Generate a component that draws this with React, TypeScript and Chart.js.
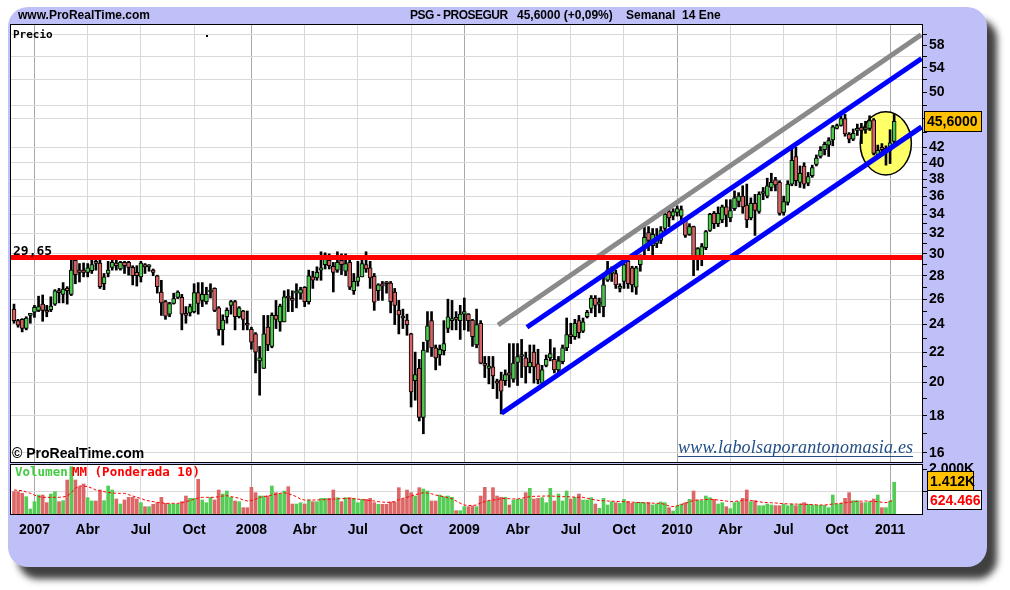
import React, { useEffect, useRef } from 'react';
import { Chart, registerables } from 'chart.js';
Chart.register(...registerables);

// ---------------- DATA (weekly candles, index 0 = last week of Nov 2006) ----------------
const OPEN = [
  25.2, 24.3, 24.4, 23.7, 24.7, 24.95, 25.1, 25.6, 25.0, 25.15,
  25.6, 26.6, 26.4, 26.9, 26.4, 29.4, 28.5, 28.5, 28.3, 28.45,
  29.3, 29.15, 27.3, 28.2, 28.75, 29.15, 28.6, 29.2, 29.2, 28.75,
  28.3, 27.9, 29.0, 28.8, 28.5, 28.0, 26.6, 25.8, 24.8, 25.65,
  26.15, 26.15, 24.8, 24.9, 25.0, 26.55, 25.9, 25.8, 26.6, 26.9,
  25.3, 23.6, 24.6, 25.5, 25.8, 24.6, 25.05, 24.1, 23.65, 23.3,
  21.4, 20.9, 23.8, 22.4, 24.7, 24.2, 24.2, 26.2, 26.0, 26.5,
  26.5, 27.0, 25.8, 27.9, 27.8, 28.5, 29.0, 29.4, 28.85, 28.5,
  29.4, 28.4, 29.2, 26.7, 27.5, 27.9, 29.0, 28.7, 27.95, 26.7,
  27.3, 27.4, 27.35, 26.6, 25.1, 24.6, 24.35, 23.3, 20.1, 20.9,
  17.9, 22.8, 24.3, 22.3, 21.8, 22.1, 23.7, 24.3, 24.5, 24.3,
  24.8, 24.8, 24.35, 22.5, 24.1, 21.2, 20.9, 21.0, 20.0, 20.15,
  20.1, 20.6, 20.2, 21.3, 21.7, 21.6, 21.0, 22.0, 21.2, 19.95,
  21.1, 21.6, 21.5, 20.8, 21.35, 22.3, 23.25, 23.1, 24.3, 23.5,
  24.6, 25.25, 26.1, 25.6, 25.4, 27.6, 28.2, 28.2, 26.9, 27.5,
  29.3, 28.7, 27.0, 29.0, 30.8, 32.1, 30.8, 31.0, 31.3, 32.5,
  34.3, 33.8, 34.2, 33.8, 33.4, 31.9, 32.7, 29.7, 29.7, 30.6,
  32.3, 34.1, 33.0, 33.4, 34.8, 33.6, 34.6, 35.4, 36.0, 35.0,
  33.6, 35.2, 34.3, 36.3, 36.0, 37.0, 37.9, 37.6, 34.2, 35.3,
  37.4, 40.8, 37.6, 39.6, 37.5, 38.4, 39.8, 40.8, 41.7, 42.3,
  43.0, 44.6, 45.0, 46.0, 43.8, 43.1, 44.3, 44.7, 44.4, 44.6,
  45.8, 41.0, 42.0, 41.6, 41.6, 42.8,
];
const HIGH = [
  25.6, 24.4, 24.45, 24.6, 24.85, 25.5, 26.25, 26.35, 25.5, 26.2,
  26.8, 26.9, 27.4, 27.05, 29.4, 29.45, 29.1, 29.15, 29.1, 29.4,
  29.5, 29.4, 28.2, 29.3, 29.4, 29.4, 29.3, 29.3, 29.3, 28.9,
  28.9, 29.3, 29.1, 29.0, 28.6, 28.05, 27.6, 25.9, 25.75, 26.5,
  26.7, 26.4, 25.4, 25.6, 27.3, 27.4, 27.4, 27.0, 27.3, 26.95,
  25.4, 24.75, 25.3, 25.9, 25.9, 25.4, 25.1, 25.05, 23.8, 23.4,
  22.4, 24.7, 24.7, 24.9, 25.9, 25.6, 26.7, 26.8, 26.7, 27.3,
  27.0, 27.05, 28.5, 28.4, 28.8, 30.2, 30.1, 30.0, 29.2, 30.2,
  30.0, 30.0, 29.4, 28.2, 29.3, 29.4, 30.2, 29.3, 28.2, 27.3,
  27.5, 27.5, 27.5, 26.9, 25.9, 25.2, 24.8, 23.35, 22.0, 21.5,
  22.7, 25.0, 25.0, 22.5, 22.5, 24.3, 26.0, 25.9, 25.0, 25.5,
  26.1, 24.85, 24.4, 25.2, 24.3, 21.7, 21.7, 21.7, 20.2, 20.65,
  20.8, 22.6, 22.6, 22.6, 22.9, 22.0, 22.5, 22.5, 22.2, 21.1,
  21.8, 22.9, 22.3, 21.7, 22.5, 24.5, 24.1, 24.4, 24.7, 24.5,
  25.1, 26.3, 26.3, 26.1, 28.0, 29.3, 28.8, 28.5, 27.3, 29.3,
  29.8, 28.85, 28.85, 29.9, 32.7, 32.7, 32.5, 32.5, 32.7, 34.2,
  34.6, 34.6, 34.9, 34.9, 33.6, 33.0, 32.75, 30.6, 31.0, 32.3,
  34.1, 34.3, 34.8, 35.0, 35.6, 35.6, 36.6, 36.4, 37.2, 37.4,
  35.8, 36.2, 36.5, 37.0, 38.1, 38.7, 38.2, 37.8, 36.0, 37.8,
  42.0, 42.0, 39.6, 40.0, 38.8, 39.7, 41.0, 42.1, 42.7, 43.3,
  45.0, 45.2, 46.8, 46.6, 44.0, 44.5, 45.2, 45.3, 45.6, 46.4,
  46.0, 42.3, 42.5, 42.2, 44.4, 46.6,
];
const LOW = [
  24.1, 23.8, 23.45, 23.6, 24.1, 24.55, 25.0, 24.25, 24.6, 25.0,
  25.5, 25.7, 25.7, 25.6, 26.3, 27.3, 27.45, 27.9, 27.9, 28.2,
  28.5, 26.9, 26.8, 27.9, 28.5, 28.5, 28.5, 28.2, 28.05, 27.2,
  27.1, 27.45, 28.2, 28.4, 28.0, 26.5, 24.7, 24.4, 24.6, 25.6,
  26.05, 23.6, 24.1, 24.65, 24.9, 24.8, 25.4, 25.6, 26.1, 25.0,
  23.2, 22.5, 24.1, 24.8, 23.6, 24.5, 23.6, 23.6, 22.2, 20.6,
  19.2, 20.9, 22.1, 22.3, 23.7, 23.5, 24.2, 25.0, 25.0, 25.3,
  26.0, 25.4, 25.6, 26.9, 27.6, 27.6, 28.6, 28.6, 26.6, 28.3,
  28.1, 28.0, 26.8, 26.4, 27.1, 27.9, 28.3, 26.9, 25.1, 25.9,
  25.9, 26.5, 24.9, 24.0, 23.3, 23.7, 23.2, 18.5, 18.9, 17.7,
  17.0, 22.0, 21.7, 20.8, 21.1, 21.8, 23.4, 23.6, 23.6, 22.9,
  23.6, 23.5, 22.4, 22.3, 21.2, 20.3, 19.9, 19.6, 19.0, 18.1,
  19.8, 19.7, 20.0, 19.8, 20.3, 19.95, 20.6, 19.95, 19.9, 19.8,
  21.0, 21.4, 20.6, 20.6, 21.2, 22.1, 22.6, 22.9, 23.0, 23.4,
  24.5, 24.9, 24.6, 24.9, 24.6, 27.5, 27.5, 26.9, 26.6, 26.9,
  26.9, 26.6, 26.4, 28.4, 29.7, 30.3, 29.8, 30.6, 31.0, 32.0,
  32.7, 33.4, 33.8, 33.4, 31.6, 31.8, 28.0, 28.5, 28.9, 30.4,
  32.2, 32.5, 32.7, 33.1, 32.7, 33.2, 34.4, 34.8, 34.1, 32.6,
  33.4, 31.8, 34.1, 35.6, 35.8, 36.6, 36.6, 33.9, 33.9, 35.0,
  37.2, 37.2, 37.0, 36.9, 37.2, 38.2, 39.6, 40.6, 41.0, 40.8,
  42.2, 44.5, 44.9, 43.5, 42.6, 42.9, 43.6, 42.5, 43.9, 44.3,
  41.0, 40.6, 41.0, 39.7, 39.9, 42.6,
];
const CLOSE = [
  24.3, 23.96, 23.7, 24.5, 24.7, 25.35, 25.4, 25.1, 24.95, 25.45,
  26.7, 26.55, 26.85, 26.7, 28.5, 28.1, 28.3, 28.3, 28.7, 29.0,
  29.1, 27.05, 27.9, 28.5, 29.2, 28.9, 29.2, 28.9, 28.75, 28.0,
  28.0, 29.15, 28.8, 28.9, 28.3, 27.05, 25.7, 24.65, 25.65, 26.05,
  26.6, 24.8, 24.7, 25.4, 26.55, 25.65, 26.4, 26.4, 26.65, 25.1,
  23.6, 24.35, 25.1, 25.8, 24.6, 25.3, 24.4, 23.95, 22.7, 22.0,
  21.6, 23.3, 22.5, 24.7, 24.4, 25.45, 26.2, 26.1, 25.9, 26.6,
  26.8, 25.8, 28.0, 27.6, 28.3, 28.7, 29.9, 28.9, 28.3, 29.2,
  29.0, 29.1, 27.0, 27.5, 27.9, 29.1, 28.6, 27.8, 25.75, 27.2,
  27.1, 27.3, 25.8, 25.5, 24.75, 24.5, 24.0, 19.4, 20.5, 17.9,
  22.15, 23.9, 22.3, 21.6, 22.2, 22.6, 24.6, 24.4, 24.4, 24.8,
  25.0, 24.3, 23.1, 24.0, 21.25, 21.1, 21.05, 20.4, 19.95, 19.45,
  20.5, 20.45, 21.25, 21.7, 21.75, 21.0, 21.3, 21.0, 20.15, 20.8,
  21.5, 21.9, 20.8, 21.4, 22.3, 23.25, 23.1, 24.1, 23.4, 24.2,
  24.95, 26.1, 25.5, 25.7, 27.2, 28.5, 28.3, 27.2, 27.0, 29.0,
  27.3, 27.2, 28.7, 29.9, 31.6, 31.3, 31.9, 31.6, 32.3, 34.0,
  33.6, 34.3, 34.6, 34.5, 31.8, 32.7, 29.7, 30.5, 30.7, 32.2,
  34.0, 33.0, 34.1, 34.8, 33.9, 34.4, 35.8, 36.0, 34.8, 33.4,
  35.2, 34.4, 36.2, 36.4, 37.2, 37.6, 37.3, 34.1, 35.4, 37.4,
  40.3, 37.8, 38.7, 37.4, 38.3, 39.4, 40.6, 41.6, 42.4, 42.9,
  44.8, 45.0, 46.0, 43.8, 43.1, 43.9, 44.4, 44.3, 44.6, 45.7,
  41.2, 41.6, 41.7, 41.7, 42.6, 45.6,
];
// weekly volume (thousands)
const VOLUME = [
  993, 993, 919, 770, 222, 548, 844, 844, 504, 889,
  993, 548, 593, 1511, 2104, 1511, 1215, 1333, 726, 578,
  578, 1067, 593, 1244, 1067, 667, 444, 622, 741, 741,
  667, 504, 326, 326, 430, 504, 741, 474, 444, 444,
  444, 548, 800, 696, 696, 1541, 622, 504, 741, 622,
  1067, 889, 1022, 741, 578, 548, 281, 281, 1185, 948,
  800, 800, 800, 1244, 948, 889, 1022, 1215, 444, 444,
  504, 444, 622, 548, 548, 696, 696, 696, 1067, 726,
  548, 726, 726, 696, 504, 652, 652, 696, 504, 430,
  430, 430, 533, 533, 1170, 667, 1067, 948, 800, 1170,
  1111, 1022, 578, 578, 844, 770, 800, 741, 148, 148,
  326, 326, 356, 326, 800, 1185, 578, 1170, 800, 741,
  741, 400, 622, 652, 652, 948, 1141, 667, 696, 726,
  504, 1141, 578, 889, 578, 1022, 667, 741, 889, 622,
  622, 726, 444, 252, 696, 400, 548, 504, 474, 652,
  548, 474, 519, 519, 504, 504, 400, 444, 533, 504,
  281, 133, 356, 444, 504, 652, 1022, 622, 593, 800,
  726, 652, 444, 504, 326, 237, 504, 548, 696, 1067,
  548, 593, 370, 370, 444, 400, 370, 370, 444, 370,
  444, 370, 444, 504, 430, 400, 385, 385, 385, 281,
  844, 430, 474, 696, 948, 593, 593, 504, 504, 548,
  667, 844, 281, 281, 578, 1412,
];
// "MM (Ponderada 10)" line (thousands)
const VOLUME_MM = [
  1066, 1050, 1037, 980, 918, 844, 770, 741, 741, 741,
  741, 741, 760, 800, 950, 1150, 1244, 1244, 1215, 1150,
  1066, 1030, 992, 960, 940, 918, 918, 918, 860, 800,
  740, 690, 622, 580, 548, 518, 500, 474, 474, 474,
  474, 500, 548, 600, 652, 720, 741, 741, 741, 741,
  770, 800, 815, 770, 741, 700, 620, 578, 600, 650,
  741, 770, 800, 844, 880, 918, 948, 900, 844, 770,
  660, 622, 622, 622, 622, 630, 640, 652, 660, 670,
  680, 690, 696, 680, 660, 640, 622, 600, 578, 548,
  530, 520, 520, 560, 640, 696, 740, 800, 860, 900,
  948, 930, 900, 844, 800, 770, 720, 680, 580, 480,
  400, 380, 380, 400, 500, 548, 600, 622, 640, 690,
  685, 680, 672, 667, 700, 740, 770, 785, 790, 795,
  800, 800, 790, 780, 770, 770, 760, 750, 745, 741,
  700, 660, 622, 600, 590, 578, 570, 560, 555, 548,
  535, 525, 515, 504, 500, 490, 480, 476, 474, 420,
  360, 326, 360, 420, 474, 540, 600, 622, 630, 640,
  652, 640, 620, 600, 575, 548, 560, 580, 600, 622,
  600, 570, 540, 518, 510, 500, 490, 474, 460, 450,
  444, 440, 437, 434, 430, 420, 410, 400, 400, 420,
  444, 460, 480, 500, 518, 540, 560, 570, 578, 570,
  560, 548, 520, 504, 560, 624.466,
];

// x-axis (quarter starts, week index) and labels
const MONTH_IDX = [5, 18, 31, 44, 58, 71, 84, 97, 110, 123, 136, 149, 162, 175, 188, 201, 214];
const MONTH_LABELS = ['2007', 'Abr', 'Jul', 'Oct', '2008', 'Abr', 'Jul', 'Oct', '2009', 'Abr', 'Jul', 'Oct', '2010', 'Abr', 'Jul', 'Oct', '2011'];
const YEAR_IDX = [5, 58, 110, 162, 214];

// price axis
const PRICE_TICKS = [16, 17, 18, 19, 20, 21, 22, 23, 24, 25, 26, 27, 28, 29, 30, 31, 32, 33, 34, 35, 36, 37, 38, 39, 40, 41, 42, 44, 46, 48, 50, 52, 54, 56, 58, 60];
const PRICE_LABELS = [16, 18, 20, 22, 24, 26, 28, 30, 32, 34, 36, 38, 40, 42, 50, 54, 58];
const PRICE_GRID = [16, 18, 20, 22, 24, 26, 28, 30, 32, 34, 36, 38, 40, 42, 46, 48, 52, 56, 60];
const VOL_TICKS = [1000, 2000];

// drawings (week index, price)
const RESISTANCE = 29.65;
const GRAY_LINE = [{ x: 118.25, y: 23.97 }, { x: 221.6, y: 59.9 }];
const BLUE_UPPER = [{ x: 125.3, y: 23.8 }, { x: 221.7, y: 55.6 }];
const BLUE_LOWER = [{ x: 119.1, y: 18.14 }, { x: 221.7, y: 44.8 }];
const CIRCLE_X = [206.7, 219.2];
const CIRCLE_Y = [38.5, 47.0];

const TITLE_LEFT = 'www.ProRealTime.com';
const TITLE_NAME = 'PSG - PROSEGUR';
const TITLE_CHANGE = '(+0,09%)';
const TITLE_PERIOD = 'Semanal  14 Ene';

// ---------------- LAYOUT / STYLE ----------------
const W = 1010, H = 590;
const X_MIN = -0.73, X_MAX = 221.8;
const P_MIN = 15.55, P_MAX = 61.8;
const V_MAX = 2178;
const GREEN = '#4CC84C', RED = '#D96262';
const VGREEN = '#55CC55', VRED = '#DD6666';
const FONT = '"Liberation Sans", Arial, sans-serif';
const MONO = '"DejaVu Sans Mono", monospace';

const isUp = CLOSE.map((c, i) => c >= OPEN[i]);
const fmtComma = (v: number, d: number) => v.toFixed(d).replace('.', ',');

function box(ctx: CanvasRenderingContext2D, x: number, top: number, w: number, h: number, fill: string, text: string, color: string) {
  ctx.fillStyle = fill;
  ctx.fillRect(x, top, w, h);
  ctx.strokeStyle = '#000';
  ctx.lineWidth = 1;
  ctx.strokeRect(x + 0.5, top + 0.5, w - 1, h - 1);
  ctx.fillStyle = color;
  ctx.font = `bold 14px ${FONT}`;
  ctx.textAlign = 'left';
  ctx.textBaseline = 'middle';
  ctx.fillText(text, x + 3, top + h / 2 + 1);
}

const pricePlugin = {
  id: 'priceDeco',
  beforeDraw(chart: any) {
    const { ctx, chartArea: a } = chart;
    ctx.save();
    ctx.fillStyle = '#fff';
    ctx.fillRect(a.left, a.top, a.right - a.left, a.bottom - a.top);
    ctx.restore();
  },
  beforeDatasetsDraw(chart: any) {
    const { ctx, scales } = chart;
    const x1 = scales.x.getPixelForValue(CIRCLE_X[0]);
    const x2 = scales.x.getPixelForValue(CIRCLE_X[1]);
    const y1 = scales.y.getPixelForValue(CIRCLE_Y[1]);
    const y2 = scales.y.getPixelForValue(CIRCLE_Y[0]);
    ctx.save();
    ctx.beginPath();
    ctx.ellipse((x1 + x2) / 2, (y1 + y2) / 2, (x2 - x1) / 2, (y2 - y1) / 2, 0, 0, Math.PI * 2);
    ctx.fillStyle = '#FFFF66';
    ctx.fill();
    ctx.lineWidth = 1.5;
    ctx.strokeStyle = '#000';
    ctx.stroke();
    ctx.restore();
  },
  afterDraw(chart: any) {
    const { ctx, chartArea: a, scales } = chart;
    ctx.save();
    ctx.strokeStyle = '#000';
    ctx.lineWidth = 1;
    ctx.strokeRect(a.left - 0.5, a.top - 0.5, a.right - a.left + 1, a.bottom - a.top + 1);

    // header
    ctx.fillStyle = '#000';
    ctx.font = `bold 12px ${FONT}`;
    ctx.textBaseline = 'middle';
    ctx.textAlign = 'left';
    ctx.fillText(TITLE_LEFT, 18, 16);
    (ctx as any).letterSpacing = '-0.5px';
    ctx.fillText(TITLE_NAME, 410, 16);
    (ctx as any).letterSpacing = '0px';
    ctx.fillText(`${fmtComma(CLOSE[CLOSE.length - 1], 4)} ${TITLE_CHANGE}`, 517, 16);
    ctx.fillText(TITLE_PERIOD, 626, 16);

    ctx.font = `bold 11px ${MONO}`;
    ctx.fillText('Precio', 13, 35);
    ctx.fillRect(206, 35, 2, 2);

    ctx.font = `bold 13px ${MONO}`;
    ctx.textBaseline = 'alphabetic';
    ctx.fillText(fmtComma(RESISTANCE, 2), 13, scales.y.getPixelForValue(RESISTANCE) - 3);

    ctx.font = `bold 14px ${FONT}`;
    ctx.textBaseline = 'middle';
    ctx.fillText('© ProRealTime.com', 12, 454);

    // watermark
    ctx.font = `italic 18px "Liberation Serif", "Times New Roman", serif`;
    const txt = 'www.labolsaporantonomasia.es';
    const w0 = ctx.measureText(txt).width;
    const ls = (235 - w0) / (txt.length - 1);
    (ctx as any).letterSpacing = `${ls.toFixed(2)}px`;
    ctx.fillStyle = '#234F86';
    ctx.textBaseline = 'alphabetic';
    ctx.fillText(txt, 678, 453);
    (ctx as any).letterSpacing = '0px';
    ctx.fillRect(678, 456, 235, 1);

    // last price label
    const yp = scales.y.getPixelForValue(CLOSE[CLOSE.length - 1]);
    box(ctx, 924, Math.round(yp - 10.5), 58, 21, '#FFC000', fmtComma(CLOSE[CLOSE.length - 1], 4), '#000');
    ctx.restore();
  },
};

const volPlugin = {
  id: 'volDeco',
  beforeDraw(chart: any) {
    const { ctx, chartArea: a } = chart;
    ctx.save();
    ctx.fillStyle = '#fff';
    ctx.fillRect(a.left, a.top, a.right - a.left, a.bottom - a.top);
    ctx.restore();
  },
  afterDraw(chart: any) {
    const { ctx, chartArea: a, scales } = chart;
    ctx.save();
    ctx.strokeStyle = '#000';
    ctx.lineWidth = 1;
    ctx.strokeRect(a.left - 0.5, a.top - 0.5, a.right - a.left + 1, a.bottom - a.top + 1);
    ctx.font = `bold 12.5px ${MONO}`;
    ctx.textBaseline = 'middle';
    ctx.textAlign = 'left';
    ctx.fillStyle = '#44CC44';
    ctx.fillText('Volumen', 15, 473);
    ctx.fillStyle = '#FF0000';
    ctx.fillText('MM (Ponderada 10)', 72, 473);
    const lastV = VOLUME[VOLUME.length - 1];
    const lastM = VOLUME_MM[VOLUME_MM.length - 1];
    const yv = scales.y.getPixelForValue(lastV);
    const ym = scales.y.getPixelForValue(lastM);
    box(ctx, 927, Math.round(yv - 11), 47, 20, '#FFC000', `${(lastV / 1000).toFixed(3)}K`, '#000');
    box(ctx, 927, Math.round(ym - 10), 55, 20, '#FFFFFF', lastM.toFixed(3), '#FF0000');
    ctx.restore();
  },
};

const xGridColor = (c: any) => (YEAR_IDX.includes(c.tick?.value) ? '#A8A8A8' : '#D9D9D9');

function priceConfig(): any {
  const wicks = HIGH.map((h, i) => ({ x: i, y: [LOW[i], h] }));
  const bodies = OPEN.map((o, i) => ({ x: i, y: [o, CLOSE[i]] }));
  const lineDs = (data: any[], color: string) => ({
    type: 'line', data, borderColor: color, borderWidth: 5, pointRadius: 0, tension: 0, order: 1, borderCapStyle: 'butt',
  });
  return {
    type: 'bar',
    data: {
      datasets: [
        lineDs([{ x: X_MIN, y: RESISTANCE }, { x: X_MAX, y: RESISTANCE }], '#FF0000'),
        lineDs(GRAY_LINE, '#8A8A8A'),
        lineDs(BLUE_UPPER, '#0000FF'),
        lineDs(BLUE_LOWER, '#0000FF'),
        { type: 'bar', data: wicks, backgroundColor: '#000', barThickness: 2, grouped: false, order: 3 },
        {
          type: 'bar', data: bodies, backgroundColor: isUp.map((u) => (u ? GREEN : RED)), borderColor: '#000', borderWidth: 1,
          borderSkipped: false, barThickness: 4, minBarLength: 2, grouped: false, order: 2,
        },
      ],
    },
    options: {
      animation: false, responsive: false, devicePixelRatio: 1, events: [],
      layout: { padding: { left: 11, top: 25, right: W - 922 - 60, bottom: H - 462 } },
      plugins: { legend: { display: false }, tooltip: { enabled: false } },
      scales: {
        x: {
          type: 'linear', min: X_MIN, max: X_MAX, offset: false,
          grid: { color: xGridColor, drawTicks: false, offset: false },
          border: { display: false }, ticks: { display: false },
          afterBuildTicks: (s: any) => { s.ticks = MONTH_IDX.map((v) => ({ value: v })); },
          afterFit: (s: any) => { s.height = 0; },
        },
        y: {
          type: 'logarithmic', position: 'right', min: P_MIN, max: P_MAX,
          grid: { color: (c: any) => (PRICE_GRID.includes(c.tick?.value) ? '#D9D9D9' : 'rgba(0,0,0,0)'), tickColor: '#000', tickLength: 5 },
          border: { display: true, color: '#000' },
          ticks: {
            autoSkip: false, color: '#000', padding: 2, font: { family: FONT, size: 14, weight: 'bold' },
            callback: (v: number) => (PRICE_LABELS.includes(v) ? String(v) : ''),
          },
          afterBuildTicks: (s: any) => { s.ticks = PRICE_TICKS.map((v) => ({ value: v })); },
          afterFit: (s: any) => { s.width = 60; },
        },
      },
    },
    plugins: [pricePlugin],
  };
}

function volConfig(): any {
  return {
    type: 'bar',
    data: {
      datasets: [
        {
          type: 'line', data: VOLUME_MM.map((v, i) => ({ x: i, y: v })), borderColor: '#FF0000', borderWidth: 1,
          borderDash: [3, 2], pointRadius: 0, tension: 0, order: 1,
        },
        {
          type: 'bar', data: VOLUME.map((v, i) => ({ x: i, y: v })), backgroundColor: isUp.map((u) => (u ? VGREEN : VRED)),
          barThickness: 3, grouped: false, order: 2,
        },
      ],
    },
    options: {
      animation: false, responsive: false, devicePixelRatio: 1, events: [],
      layout: { padding: { left: 11, top: 465, right: W - 922 - 60, bottom: H - 514 - 40 } },
      plugins: { legend: { display: false }, tooltip: { enabled: false } },
      scales: {
        x: {
          type: 'linear', min: X_MIN, max: X_MAX, offset: false,
          grid: { color: xGridColor, drawTicks: false, offset: false },
          border: { display: false },
          ticks: {
            autoSkip: false, maxRotation: 0, color: '#000', padding: 8, font: { family: FONT, size: 14, weight: 'bold' },
            callback: (_v: number, i: number) => MONTH_LABELS[i],
          },
          afterBuildTicks: (s: any) => { s.ticks = MONTH_IDX.map((v) => ({ value: v })); },
          afterFit: (s: any) => { s.height = 40; },
        },
        y: {
          position: 'right', min: 0, max: V_MAX,
          grid: { color: (c: any) => (c.tick?.value === 1000 ? '#D9D9D9' : 'rgba(0,0,0,0)'), tickColor: '#000', tickLength: 5 },
          border: { display: true, color: '#000' },
          ticks: {
            autoSkip: false, color: '#000', padding: 2, font: { family: FONT, size: 14, weight: 'bold' },
            callback: (v: number) => (v === 2000 ? `${(v / 1000).toFixed(3)}K` : ''),
          },
          afterBuildTicks: (s: any) => { s.ticks = VOL_TICKS.map((v) => ({ value: v })); },
          afterFit: (s: any) => { s.width = 60; },
        },
      },
    },
    plugins: [volPlugin],
  };
}

export default function App() {
  const pRef = useRef<HTMLCanvasElement>(null);
  const vRef = useRef<HTMLCanvasElement>(null);
  useEffect(() => {
    const pc = new Chart(pRef.current as HTMLCanvasElement, priceConfig());
    const vc = new Chart(vRef.current as HTMLCanvasElement, volConfig());
    return () => { pc.destroy(); vc.destroy(); };
  }, []);
  return (
    <div style={{ position: 'fixed', left: 0, top: 0, width: W, height: H, background: '#fff', overflow: 'hidden' }}>
      <div style={{ position: 'absolute', left: 8, top: 7, width: 979, height: 560, background: '#C0C0F8', borderRadius: 20, boxShadow: '10px 12px 7px rgba(30,30,30,0.85)' }} />
      <canvas ref={pRef} width={W} height={H} style={{ position: 'absolute', left: 0, top: 0 }} />
      <canvas ref={vRef} width={W} height={H} style={{ position: 'absolute', left: 0, top: 0 }} />
    </div>
  );
}
